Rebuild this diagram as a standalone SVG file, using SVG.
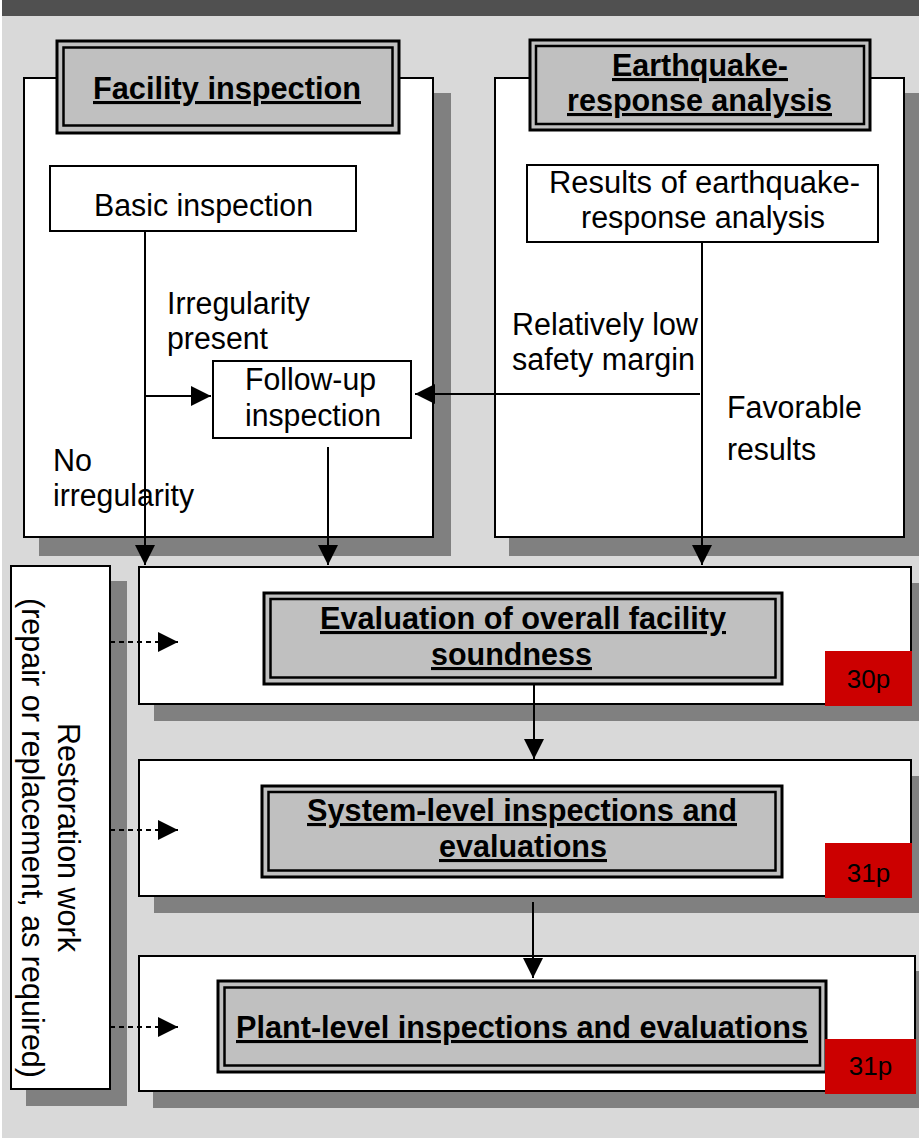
<svg xmlns="http://www.w3.org/2000/svg" width="919" height="1138" viewBox="0 0 919 1138">
<defs>
<style>
.bg{fill:#d9d9d9}
.bar{fill:#505050}
.shadow{fill:#808080}
.box{fill:#fff;stroke:#000;stroke-width:2}
.tbo{fill:#c0c0c0;stroke:#000;stroke-width:3}
.tbi{fill:none;stroke:#000;stroke-width:2.5}
.red{fill:#cc0000}
.t{font-family:'Liberation Sans',Arial,sans-serif;font-size:31px;fill:#000}
.tt{font-weight:bold;text-decoration:underline}
.pg{font-family:'Liberation Sans',Arial,sans-serif;font-size:26px;fill:#000;text-anchor:middle}
.conn{stroke:#000;stroke-width:2;fill:none}
.dash{stroke-dasharray:5 4}
</style>
<marker id="ah" markerUnits="userSpaceOnUse" markerWidth="20" markerHeight="20" refX="20" refY="10" orient="auto" viewBox="0 0 20 20">
<path d="M0,0 L20,10 L0,20 Z" fill="#000"/>
</marker>
</defs>
<rect x="0" y="0" width="919" height="1138" fill="#fff"/>
<rect class="bg" x="2" y="0" width="917" height="1138"/>
<rect class="bar" x="2" y="0" width="917" height="16"/>

<g id="facility-inspection">
<rect class="shadow" x="39" y="93" width="412" height="463"/>
<rect class="box" x="24" y="78" width="409" height="459"/>
<rect class="tbo" x="57" y="41" width="342" height="92"/>
<rect class="tbi" x="63.5" y="47.5" width="329" height="78"/>
<text class="t tt" x="93" y="99" textLength="268" lengthAdjust="spacingAndGlyphs">Facility inspection</text>
</g>

<g id="earthquake-response-analysis">
<rect class="shadow" x="509" y="93" width="410" height="463"/>
<rect class="box" x="495" y="78" width="409" height="459"/>
<rect class="tbo" x="530" y="40" width="340" height="90"/>
<rect class="tbi" x="536" y="46" width="328" height="78"/>
<text class="t tt" x="612" y="76" textLength="176" lengthAdjust="spacingAndGlyphs">Earthquake-</text>
<text class="t tt" x="567" y="111" textLength="265" lengthAdjust="spacingAndGlyphs">response analysis</text>
</g>

<g id="basic-inspection">
<rect class="box" x="50" y="166" width="306" height="65"/>
<text class="t" x="94" y="216" textLength="219" lengthAdjust="spacingAndGlyphs">Basic inspection</text>
</g>

<g id="results-analysis">
<rect class="box" x="527" y="165" width="351" height="77"/>
<text class="t" x="549" y="193" textLength="311" lengthAdjust="spacingAndGlyphs">Results of earthquake-</text>
<text class="t" x="581" y="228" textLength="244" lengthAdjust="spacingAndGlyphs">response analysis</text>
</g>

<g id="follow-up-inspection">
<rect class="box" x="213" y="361" width="198" height="77"/>
<text class="t" x="245" y="390" textLength="131" lengthAdjust="spacingAndGlyphs">Follow-up</text>
<text class="t" x="245" y="426" textLength="136" lengthAdjust="spacingAndGlyphs">inspection</text>
</g>

<g id="overall-soundness">
<rect class="shadow" x="154" y="583" width="765" height="138"/>
<rect class="box" x="139" y="567" width="772" height="137"/>
<rect class="tbo" x="264" y="593" width="518" height="91"/>
<rect class="tbi" x="270.5" y="599" width="505" height="78.5"/>
<text class="t tt" x="320" y="629" textLength="406" lengthAdjust="spacingAndGlyphs">Evaluation of overall facility</text>
<text class="t tt" x="431" y="665" textLength="161" lengthAdjust="spacingAndGlyphs">soundness</text>
<rect class="red" x="825" y="651" width="87" height="55"/>
<text class="pg" x="868.5" y="688">30p</text>
</g>

<g id="system-level">
<rect class="shadow" x="154" y="776" width="765" height="137"/>
<rect class="box" x="139" y="760" width="772" height="136"/>
<rect class="tbo" x="262" y="786" width="520" height="91"/>
<rect class="tbi" x="268.5" y="792" width="507" height="78.5"/>
<text class="t tt" x="307" y="821" textLength="430" lengthAdjust="spacingAndGlyphs">System-level inspections and</text>
<text class="t tt" x="439" y="857" textLength="168" lengthAdjust="spacingAndGlyphs">evaluations</text>
<rect class="red" x="825" y="843" width="87" height="55"/>
<text class="pg" x="868.5" y="882">31p</text>
</g>

<g id="plant-level">
<rect class="shadow" x="153" y="971" width="766" height="137"/>
<rect class="box" x="139" y="956" width="776" height="135"/>
<rect class="tbo" x="218" y="981" width="608" height="91"/>
<rect class="tbi" x="224.5" y="987.5" width="595.5" height="78"/>
<text class="t tt" x="236" y="1038" textLength="572" lengthAdjust="spacingAndGlyphs">Plant-level inspections and evaluations</text>
<rect class="red" x="825" y="1039" width="91" height="55"/>
<text class="pg" x="870.5" y="1075">31p</text>
</g>

<g id="restoration-work">
<rect class="shadow" x="26" y="581" width="101" height="525"/>
<rect class="box" x="11" y="566" width="99" height="523"/>
<text class="t" transform="translate(58,723) rotate(90)" x="0" y="0" textLength="229" lengthAdjust="spacingAndGlyphs">Restoration work</text>
<text class="t" transform="translate(22,598) rotate(90)" x="0" y="0" textLength="480" lengthAdjust="spacingAndGlyphs">(repair or replacement, as required)</text>
</g>

<g id="connectors">
<path class="conn" d="M145,231 V565" marker-end="url(#ah)"/>
<path class="conn" d="M145,396 H211" marker-end="url(#ah)"/>
<path class="conn" d="M328,447 V565" marker-end="url(#ah)"/>
<path class="conn" d="M702,242 V565" marker-end="url(#ah)"/>
<path class="conn" d="M700,394 H415" marker-end="url(#ah)"/>
<path class="conn" d="M534,685 V759" marker-end="url(#ah)"/>
<path class="conn" d="M533,902 V978" marker-end="url(#ah)"/>
<path class="conn dash" d="M110,642 H178" marker-end="url(#ah)"/>
<path class="conn dash" d="M110,830 H178" marker-end="url(#ah)"/>
<path class="conn dash" d="M110,1027 H178" marker-end="url(#ah)"/>
<text class="t" x="167" y="314" textLength="143" lengthAdjust="spacingAndGlyphs">Irregularity</text>
<text class="t" x="167" y="349" textLength="101" lengthAdjust="spacingAndGlyphs">present</text>
<text class="t" x="53" y="471" textLength="39" lengthAdjust="spacingAndGlyphs">No</text>
<text class="t" x="53" y="506" textLength="141" lengthAdjust="spacingAndGlyphs">irregularity</text>
<text class="t" x="512" y="335" textLength="186" lengthAdjust="spacingAndGlyphs">Relatively low</text>
<text class="t" x="512" y="370" textLength="183" lengthAdjust="spacingAndGlyphs">safety margin</text>
<text class="t" x="727" y="418" textLength="135" lengthAdjust="spacingAndGlyphs">Favorable</text>
<text class="t" x="727" y="460" textLength="89" lengthAdjust="spacingAndGlyphs">results</text>
</g>
</svg>
